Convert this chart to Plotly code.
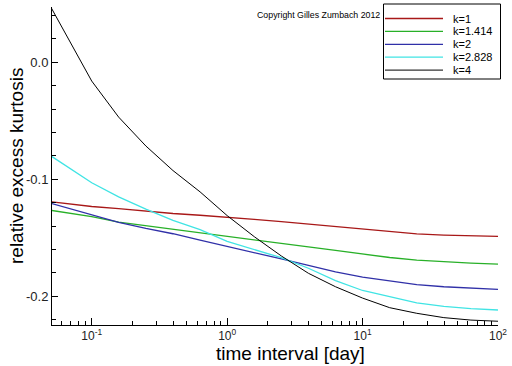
import plotly.graph_objects as go

# ---- data ----
time_interval = [0.05, 0.1, 0.158, 0.251, 0.398, 0.631, 1.0, 1.585, 2.512, 3.981,
                 6.31, 10.0, 15.85, 25.12, 39.81, 63.1, 100.0]

kurt_k1 = [-0.1191, -0.1232, -0.1250, -0.1272, -0.1292, -0.1307, -0.1322, -0.1342, -0.1362,
           -0.1384, -0.1405, -0.1428, -0.1448, -0.1466, -0.1476, -0.1482, -0.1487]
kurt_k1414 = [-0.1265, -0.1318, -0.1365, -0.1395, -0.1428, -0.1455, -0.1482, -0.1515, -0.1545,
              -0.1578, -0.1608, -0.1640, -0.1668, -0.1690, -0.1706, -0.1716, -0.1724]
kurt_k2 = [-0.1205, -0.1300, -0.1368, -0.1420, -0.1465, -0.1520, -0.1572, -0.1625, -0.1680,
           -0.1735, -0.1790, -0.1835, -0.1870, -0.1900, -0.1918, -0.1930, -0.1940]
kurt_k2828 = [-0.0800, -0.1029, -0.1150, -0.1255, -0.1350, -0.1430, -0.1530, -0.1600, -0.1670,
              -0.1760, -0.1865, -0.1950, -0.2005, -0.2055, -0.2085, -0.2105, -0.2117]
kurt_k4 = [0.0470, -0.0160, -0.0468, -0.0715, -0.0925, -0.1107, -0.1310, -0.1490, -0.1655,
           -0.1803, -0.1918, -0.2015, -0.2097, -0.2145, -0.2182, -0.2203, -0.2213]

series_names = ["k=1", "k=1.414", "k=2", "k=2.828", "k=4"]
series_values = [kurt_k1, kurt_k1414, kurt_k2, kurt_k2828, kurt_k4]
series_colors = ["#a81818", "#28b028", "#3030a8", "#40e4e4", "#000000"]
series_widths = [1.3, 1.3, 1.3, 1.3, 1.0]

x_tick_vals = [0.1, 1, 10, 100]
x_tick_text = ["10<sup>-1</sup>", "10<sup>0</sup>", "10<sup>1</sup>", "10<sup>2</sup>"]
y_tick_vals = [0.0, -0.1, -0.2]
y_tick_text = ["0.0", "-0.1", "-0.2"]

FONT = "Liberation Sans, Arial, sans-serif"

fig = go.Figure()
for name, vals, col, w in zip(series_names, series_values, series_colors, series_widths):
    fig.add_trace(go.Scatter(x=time_interval, y=vals, mode="lines", name=name,
                             line=dict(color=col, width=w), showlegend=False))

# plot area in pixels: x 52..498, y 7..325
W, H = 512, 366
L, R, T, B = 52, 14, 7, 41
pw, ph = W - L - R, H - T - B

def px(xp):
    return (xp - L) / pw

def py(yp):
    return (H - B - yp) / ph

# manual legend box (Tecplot style)
shapes = [dict(type="rect", xref="paper", yref="paper",
               x0=px(383.5), x1=px(500.5), y0=py(79), y1=py(4),
               line=dict(color="black", width=1), fillcolor="white", layer="above")]
annotations = []
for i, (name, col, w) in enumerate(zip(series_names, series_colors, series_widths)):
    yy = 18.5 + i * 12.9
    shapes.append(dict(type="line", xref="paper", yref="paper",
                       x0=px(385), x1=px(443), y0=py(yy), y1=py(yy),
                       line=dict(color=col, width=w), layer="above"))
    annotations.append(dict(xref="paper", yref="paper", x=px(452), y=py(yy),
                            text=name, showarrow=False, xanchor="left", yanchor="middle",
                            borderpad=0,
                            font=dict(family=FONT, size=11, color="black")))

annotations.append(dict(xref="paper", yref="paper", x=px(318), y=py(15),
                        text="Copyright Gilles Zumbach 2012", showarrow=False,
                        xanchor="center", yanchor="middle",
                        font=dict(family=FONT, size=8.8, color="black")))
annotations.append(dict(xref="paper", yref="paper", x=px(290), y=py(353),
                        text="time interval [day]", showarrow=False,
                        xanchor="center", yanchor="middle", borderpad=0,
                        font=dict(family=FONT, size=19, color="black")))
annotations.append(dict(xref="paper", yref="paper", x=px(16), y=py(166),
                        text="relative excess kurtosis", showarrow=False, textangle=-90,
                        xanchor="center", yanchor="middle",
                        font=dict(family=FONT, size=19, color="black")))

fig.update_layout(
    width=W, height=H,
    margin=dict(l=L, r=R, t=T, b=B, autoexpand=False),
    paper_bgcolor="white", plot_bgcolor="white",
    showlegend=False,
    shapes=shapes, annotations=annotations,
    font=dict(family=FONT, color="black"),
)

fig.update_xaxes(
    type="log", range=[-1.2934, 2.0],
    tickvals=x_tick_vals, ticktext=x_tick_text,
    ticks="inside", ticklen=7, tickwidth=1, tickcolor="black",
    showline=True, linecolor="black", linewidth=1,
    showgrid=False, zeroline=False,
    tickfont=dict(family=FONT, size=12, color="#222"),
    minor=dict(ticks="inside", ticklen=4, tickcolor="black", dtick="D1", showgrid=False),
)
fig.update_yaxes(
    range=[-0.2245, 0.0473],
    tickvals=y_tick_vals, ticktext=y_tick_text,
    ticks="inside", ticklen=6, tickwidth=1, tickcolor="black",
    showline=True, linecolor="black", linewidth=1,
    showgrid=False, zeroline=False,
    tickfont=dict(family=FONT, size=13, color="#222"),
    minor=dict(ticks="inside", ticklen=4, tickcolor="black", dtick=0.02, tick0=0, showgrid=False),
)

fig.write_html("out.html", config={"displayModeBar": False},
               post_script="document.body.style.margin='0';document.body.style.overflow='hidden';")
